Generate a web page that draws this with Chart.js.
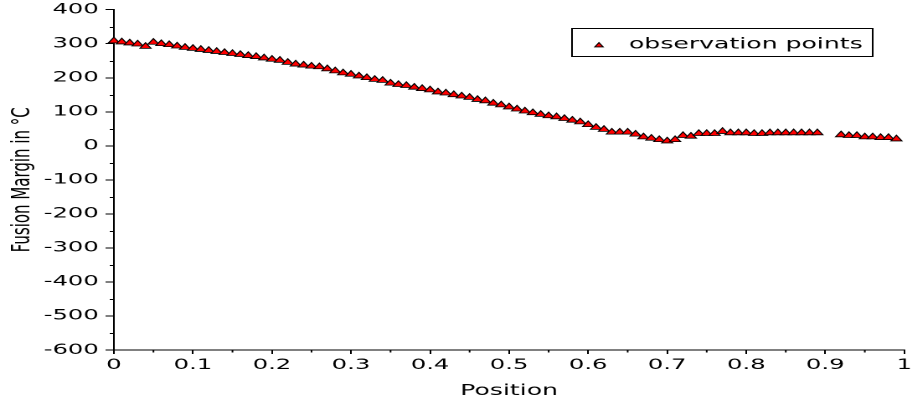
<!DOCTYPE html>
<html>
<head>
<meta charset="utf-8">
<script src="https://cdn.jsdelivr.net/npm/chart.js@4/dist/chart.umd.min.js"></script>
<style>
  html, body { margin: 0; padding: 0; background: #fff; overflow: hidden; width: 913px; height: 407px; }
  /* the reference is a stretched picture: draw narrow, then widen */
  #grafico { transform: translateY(-3px) scaleX(1.675); transform-origin: 0 0; display: block; }
</style>
</head>
<body>
<canvas id="grafico" width="547" height="410"></canvas>
<script>
//Dados
const posicoes = [0.00, 0.01, 0.02, 0.03, 0.04, 0.05, 0.06, 0.07, 0.08, 0.09,
                  0.10, 0.11, 0.12, 0.13, 0.14, 0.15, 0.16, 0.17, 0.18, 0.19,
                  0.20, 0.21, 0.22, 0.23, 0.24, 0.25, 0.26, 0.27, 0.28, 0.29,
                  0.30, 0.31, 0.32, 0.33, 0.34, 0.35, 0.36, 0.37, 0.38, 0.39,
                  0.40, 0.41, 0.42, 0.43, 0.44, 0.45, 0.46, 0.47, 0.48, 0.49,
                  0.50, 0.51, 0.52, 0.53, 0.54, 0.55, 0.56, 0.57, 0.58, 0.59,
                  0.60, 0.61, 0.62, 0.63, 0.64, 0.65, 0.66, 0.67, 0.68, 0.69,
                  0.70, 0.71, 0.72, 0.73, 0.74, 0.75, 0.76, 0.77, 0.78, 0.79,
                  0.80, 0.81, 0.82, 0.83, 0.84, 0.85, 0.86, 0.87, 0.88, 0.89,
                  0.92, 0.93, 0.94, 0.95, 0.96, 0.97, 0.98, 0.99];
const margens = [308, 305, 302, 299, 292, 304, 300, 297, 293, 289,
                 286, 283, 280, 277, 274, 271, 268, 265, 262, 258,
                 254, 251, 245, 240, 237, 234, 232, 226, 220, 214,
                 210, 205, 200, 195, 192, 184, 180, 177, 172, 168,
                 164, 158, 155, 150, 146, 142, 136, 132, 125, 120,
                 114, 108, 102, 97, 92, 88, 85, 80, 75, 70,
                 62, 54, 48, 40, 40, 40, 34, 26, 22, 18,
                 14, 18, 30, 28, 36, 36, 36, 42, 38, 38,
                 38, 36, 36, 38, 38, 38, 38, 38, 38, 38,
                 32, 30, 30, 26, 26, 24, 24, 20];
const rotuloSerie = 'observation points';
const tituloX = 'Position';
const tituloY = 'Fusion Margin in °C';
const limitesX = [0, 1];
const limitesY = [-600, 400];

const fonteEixo = { family: 'DejaVu Sans', size: 14.5 };
const fonteTitulo = { family: 'DejaVu Sans', size: 15 };

//Monta pontos {x, y}
const pontos = posicoes.map((p, i) => ({ x: p, y: margens[i] }));

//Desenha os ticks menores (a cada 50 no y, a cada 0.05 no x)
const ticksMenores = {
    id: 'ticksMenores',
    afterDraw(chart) {
        const ctx = chart.ctx;
        const area = chart.chartArea;
        const sx = chart.scales.x;
        const sy = chart.scales.y;
        ctx.save();
        ctx.strokeStyle = '#000';
        ctx.lineWidth = 1;
        ctx.beginPath();
        for (let v = limitesY[0] + 50; v < limitesY[1]; v += 100) {
            let py = Math.round(sy.getPixelForValue(v)) + 0.5;
            ctx.moveTo(area.left - 2.5, py);
            ctx.lineTo(area.left, py);
        }
        for (let k = 1; k < 20; k += 2) {
            let px = sx.getPixelForValue(k * 0.05);
            ctx.moveTo(px, area.bottom);
            ctx.lineTo(px, area.bottom + 2.5);
        }
        ctx.stroke();
        ctx.restore();
    }
};

//Legenda em caixa dentro da área do gráfico (canvas deslocado 3px para cima)
const legendaCaixa = {
    id: 'legendaCaixa',
    afterDraw(chart) {
        const ctx = chart.ctx;
        const ds = chart.data.datasets[0];
        const x0 = 341.5, y0 = 31.5, w = 179.5, h = 28;
        ctx.save();
        ctx.strokeStyle = '#000';
        ctx.lineWidth = 1;
        ctx.strokeRect(x0, y0, w, h);
        ctx.fillStyle = ds.backgroundColor;
        ctx.strokeStyle = ds.borderColor;
        ctx.lineWidth = 0.8;
        Chart.helpers.drawPoint(ctx, { pointStyle: 'triangle', radius: 2.9, borderWidth: 0.8 }, 357.6, 48.5);
        ctx.fillStyle = '#000';
        ctx.font = '15px "DejaVu Sans"';
        ctx.textBaseline = 'middle';
        ctx.textAlign = 'left';
        ctx.fillText(ds.label, 375.5, 47.5);
        ctx.restore();
    }
};

new Chart(document.getElementById('grafico'), {
    type: 'scatter',
    data: {
        datasets: [{
            label: rotuloSerie,
            data: pontos,
            pointStyle: 'triangle',
            pointRadius: 3.8,
            pointHoverRadius: 3.8,
            borderWidth: 0.8,
            backgroundColor: '#ff0000',
            borderColor: '#000000',
            clip: false
        }]
    },
    options: {
        responsive: false,
        animation: false,
        devicePixelRatio: 2,
        layout: { padding: { top: 7, right: 0, bottom: 0, left: 0 } },
        plugins: {
            legend: { display: false },
            tooltip: { enabled: false }
        },
        scales: {
            x: {
                type: 'linear',
                min: limitesX[0],
                max: limitesX[1],
                afterFit: (s) => { s.height = 57; },
                border: { display: true, color: '#000', width: 1 },
                grid: { drawOnChartArea: false, drawTicks: true, tickLength: 4, color: '#000' },
                ticks: {
                    stepSize: 0.1, color: '#000', font: fonteEixo, padding: 2.5, maxRotation: 0, autoSkip: false,
                    callback: (v) => String(Number(v.toFixed(2)))
                },
                title: { display: true, text: tituloX, color: '#000', font: fonteTitulo, padding: { top: 0, bottom: 7 } }
            },
            y: {
                type: 'linear',
                min: limitesY[0],
                max: limitesY[1],
                afterFit: (s) => { s.width = 68; },
                border: { display: true, color: '#000', width: 1 },
                grid: { drawOnChartArea: false, drawTicks: true, tickLength: 5, color: '#000' },
                ticks: { stepSize: 100, color: '#000', font: fonteEixo, padding: 4 },
                title: { display: true, text: tituloY, color: '#000', font: fonteTitulo, padding: { top: 4.5, bottom: 0 } }
            }
        }
    },
    plugins: [ticksMenores, legendaCaixa]
});
</script>
</body>
</html>
